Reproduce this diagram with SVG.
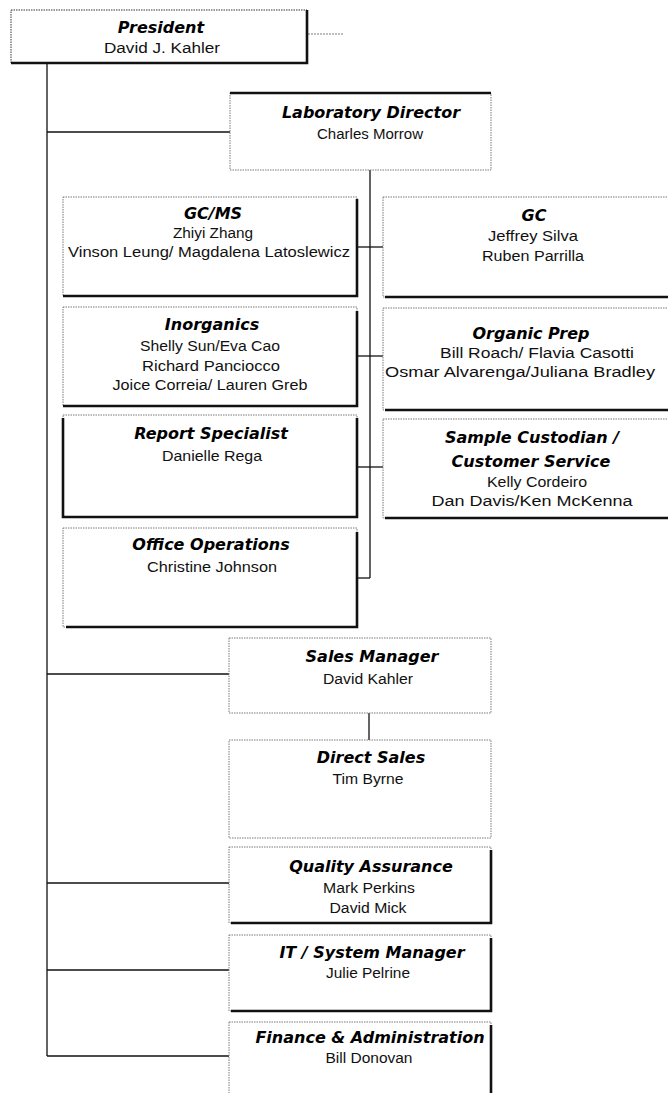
<svg xmlns="http://www.w3.org/2000/svg" width="668" height="1093" viewBox="0 0 668 1093">
<style>
.bg{fill:#fff}
.box{fill:#fff;stroke:#7a7a7a;stroke-width:1;stroke-dasharray:1.5 1}
.sh{stroke:#111;stroke-width:2.6;fill:none}
.conn{stroke:#111;stroke-width:1.3;fill:none}
.t{font-family:"DejaVu Sans",sans-serif;font-weight:bold;font-style:oblique;font-size:16px;fill:#000;text-anchor:middle}
.n{font-family:"Liberation Sans",Arial,sans-serif;font-size:15.5px;fill:#111;text-anchor:middle}
</style>
<rect class="bg" x="0" y="0" width="668" height="1093"/>

<g id="connectors">
  <line class="conn" x1="47" y1="63" x2="47" y2="1056"/>
  <line class="conn" x1="47" y1="132" x2="230" y2="132"/>
  <line class="conn" x1="47" y1="674" x2="229" y2="674"/>
  <line class="conn" x1="47" y1="883" x2="229" y2="883"/>
  <line class="conn" x1="47" y1="970" x2="229" y2="970"/>
  <line class="conn" x1="47" y1="1056" x2="229" y2="1056"/>
  <line class="conn" x1="370" y1="170" x2="370" y2="578"/>
  <line class="conn" x1="357" y1="578" x2="370" y2="578"/>
  <line class="conn" x1="357" y1="247" x2="383" y2="247"/>
  <line class="conn" x1="357" y1="356" x2="383" y2="356"/>
  <line class="conn" x1="357" y1="467" x2="383" y2="467"/>
  <line class="conn" x1="369" y1="713" x2="369" y2="740"/>
  <line x1="308" y1="34" x2="343" y2="34" stroke="#aaa" stroke-width="1.5" stroke-dasharray="2 1"/>
</g>

<g id="president">
  <rect class="box" x="11" y="10" width="296" height="53" style="stroke:#333"/>
  <path class="sh" d="M11 63 H307 V10"/>
  <text class="t" x="161" y="33">President</text>
  <text class="n" x="162" y="53" textLength="116" lengthAdjust="spacingAndGlyphs">David J. Kahler</text>
</g>

<g id="lab-director">
  <rect class="box" x="230" y="93" width="261" height="77"/>
  <path class="sh" d="M230 93 H491"/>
  <text class="t" x="371" y="118">Laboratory Director</text>
  <text class="n" x="370" y="139" textLength="106" lengthAdjust="spacingAndGlyphs">Charles Morrow</text>
</g>

<g id="gcms">
  <rect class="box" x="63" y="197" width="294" height="99"/>
  <path class="sh" d="M63 296 H357 V199"/>
  <text class="t" x="213" y="219">GC/MS</text>
  <text class="n" x="213" y="238" textLength="80" lengthAdjust="spacingAndGlyphs">Zhiyi Zhang</text>
  <text class="n" x="209" y="257" textLength="282" lengthAdjust="spacingAndGlyphs">Vinson Leung/ Magdalena Latoslewicz</text>
</g>

<g id="inorganics">
  <rect class="box" x="63" y="307" width="294" height="99"/>
  <path class="sh" d="M63 406 H357 V311"/>
  <text class="t" x="212" y="330">Inorganics</text>
  <text class="n" x="210" y="351" textLength="140" lengthAdjust="spacingAndGlyphs">Shelly Sun/Eva Cao</text>
  <text class="n" x="211" y="371" textLength="138" lengthAdjust="spacingAndGlyphs">Richard Panciocco</text>
  <text class="n" x="210" y="390" textLength="195" lengthAdjust="spacingAndGlyphs">Joice Correia/ Lauren Greb</text>
</g>

<g id="report-specialist">
  <rect class="box" x="63" y="415" width="294" height="102"/>
  <path class="sh" d="M63 418 V517 H357 V418"/>
  <text class="t" x="211" y="439">Report Specialist</text>
  <text class="n" x="212" y="461" textLength="100" lengthAdjust="spacingAndGlyphs">Danielle Rega</text>
</g>

<g id="office-operations">
  <rect class="box" x="63" y="528" width="294" height="99"/>
  <path class="sh" d="M66 627 H357 V532"/>
  <text class="t" x="211" y="550">Office Operations</text>
  <text class="n" x="212" y="572" textLength="130" lengthAdjust="spacingAndGlyphs">Christine Johnson</text>
</g>

<g id="gc">
  <rect class="box" x="383" y="197" width="302" height="100"/>
  <path class="sh" d="M385 297 H685"/>
  <text class="t" x="534" y="221">GC</text>
  <text class="n" x="533" y="241" textLength="90" lengthAdjust="spacingAndGlyphs">Jeffrey Silva</text>
  <text class="n" x="533" y="261" textLength="102" lengthAdjust="spacingAndGlyphs">Ruben Parrilla</text>
</g>

<g id="organic-prep">
  <rect class="box" x="383" y="308" width="302" height="102"/>
  <path class="sh" d="M385 410 H685"/>
  <text class="t" x="531" y="339">Organic Prep</text>
  <text class="n" x="537" y="358" textLength="194" lengthAdjust="spacingAndGlyphs">Bill Roach/ Flavia Casotti</text>
  <text class="n" x="520" y="377" textLength="270" lengthAdjust="spacingAndGlyphs">Osmar Alvarenga/Juliana Bradley</text>
</g>

<g id="sample-custodian">
  <rect class="box" x="383" y="419" width="302" height="99"/>
  <path class="sh" d="M385 518 H685"/>
  <text class="t" x="532" y="443">Sample Custodian /</text>
  <text class="t" x="531" y="467">Customer Service</text>
  <text class="n" x="537" y="487" textLength="100" lengthAdjust="spacingAndGlyphs">Kelly Cordeiro</text>
  <text class="n" x="532" y="506" textLength="201" lengthAdjust="spacingAndGlyphs">Dan Davis/Ken McKenna</text>
</g>

<g id="sales-manager">
  <rect class="box" x="229" y="638" width="262" height="75"/>
  <text class="t" x="372" y="662">Sales Manager</text>
  <text class="n" x="368" y="684" textLength="90" lengthAdjust="spacingAndGlyphs">David Kahler</text>
</g>

<g id="direct-sales">
  <rect class="box" x="229" y="740" width="262" height="98"/>
  <text class="t" x="371" y="763">Direct Sales</text>
  <text class="n" x="368" y="784" textLength="71" lengthAdjust="spacingAndGlyphs">Tim Byrne</text>
</g>

<g id="quality-assurance">
  <rect class="box" x="229" y="847" width="262" height="76"/>
  <path class="sh" d="M231 923 H491 V850"/>
  <text class="t" x="371" y="872">Quality Assurance</text>
  <text class="n" x="369" y="893" textLength="92" lengthAdjust="spacingAndGlyphs">Mark Perkins</text>
  <text class="n" x="368" y="913" textLength="77" lengthAdjust="spacingAndGlyphs">David Mick</text>
</g>

<g id="it-system-manager">
  <rect class="box" x="229" y="935" width="262" height="76"/>
  <path class="sh" d="M231 1011 H491 V938"/>
  <text class="t" x="372" y="958">IT / System Manager</text>
  <text class="n" x="368" y="978" textLength="84" lengthAdjust="spacingAndGlyphs">Julie Pelrine</text>
</g>

<g id="finance-administration">
  <rect class="box" x="229" y="1022" width="262" height="90"/>
  <path class="sh" d="M491 1025 V1093"/>
  <text class="t" x="370" y="1043">Finance &amp; Administration</text>
  <text class="n" x="369" y="1063" textLength="87" lengthAdjust="spacingAndGlyphs">Bill Donovan</text>
</g>
</svg>
